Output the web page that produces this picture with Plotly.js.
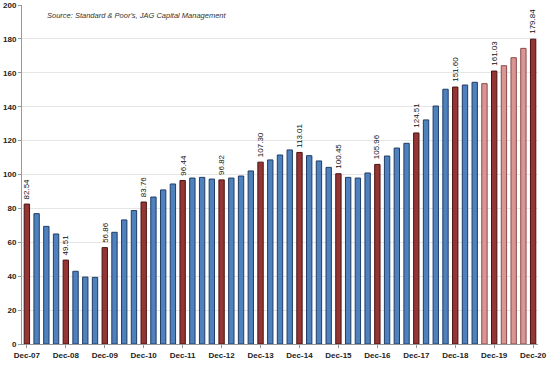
<!DOCTYPE html>
<html>
<head>
<meta charset="utf-8">
<script src="https://cdn.plot.ly/plotly-3.0.1.min.js"></script>
<style>html,body{margin:0;padding:0;background:#fff;}#chart{width:550px;height:376px;}</style>
</head>
<body>
<div id="chart"></div>
<script>
var quarters = ["Dec-07","Mar-08","Jun-08","Sep-08","Dec-08","Mar-09","Jun-09","Sep-09","Dec-09","Mar-10","Jun-10","Sep-10","Dec-10","Mar-11","Jun-11","Sep-11","Dec-11","Mar-12","Jun-12","Sep-12","Dec-12","Mar-13","Jun-13","Sep-13","Dec-13","Mar-14","Jun-14","Sep-14","Dec-14","Mar-15","Jun-15","Sep-15","Dec-15","Mar-16","Jun-16","Sep-16","Dec-16","Mar-17","Jun-17","Sep-17","Dec-17","Mar-18","Jun-18","Sep-18","Dec-18","Mar-19","Jun-19","Sep-19","Dec-19","Mar-20","Jun-20","Sep-20","Dec-20"];
var values = [82.54,76.9,69.4,64.9,49.51,42.9,39.5,39.3,56.86,65.9,73.2,78.7,83.76,86.7,90.9,94.4,96.44,97.9,98.3,97.3,96.82,97.9,99.1,102.1,107.30,108.6,111.5,114.5,113.01,111.1,108.0,104.2,100.45,98.3,97.9,100.9,105.96,110.9,115.6,118.4,124.51,132.2,140.4,150.3,151.60,152.8,154.4,153.6,161.03,164.2,168.9,174.4,179.84];
// kind: a = actual quarter, d = December year-end, e = estimate
var kinds = ["d","a","a","a","d","a","a","a","d","a","a","a","d","a","a","a","d","a","a","a","d","a","a","a","d","a","a","a","d","a","a","a","d","a","a","a","d","a","a","a","d","a","a","a","d","a","a","e","d","e","e","e","d"];
var tickLabels = ["Dec-07","Dec-08","Dec-09","Dec-10","Dec-11","Dec-12","Dec-13","Dec-14","Dec-15","Dec-16","Dec-17","Dec-18","Dec-19","Dec-20"];
var sourceNote = "Source: Standard & Poor's, JAG Capital Management";

var fillMap = {a:"#4f81bd", d:"#943634", e:"#d99694"};
var lineMap = {a:"#1f3d66", d:"#4a1312", e:"#8a4a48"};
var idx = quarters.map(function(_, i){ return i; });

var trace = {
  type: "bar",
  x: idx,
  y: values,
  marker: {
    color: kinds.map(function(k){ return fillMap[k]; }),
    line: {color: kinds.map(function(k){ return lineMap[k]; }), width: 1}
  },
  hoverinfo: "none"
};

var tickVals = [];
for (var i = 0; i < quarters.length; i++) { if (i % 4 === 0) tickVals.push(i); }

var annotations = [{
  text: sourceNote, xref: "paper", yref: "paper",
  x: 0.045, y: 0.97, xanchor: "left", yanchor: "middle", showarrow: false,
  font: {family: "Liberation Sans, Arial, sans-serif", size: 7.5, color: "#333", style: "italic"}
}];
values.forEach(function(v, i){
  if (kinds[i] !== "d") return;
  annotations.push({
    x: i, y: v, xref: "x", yref: "y", text: v.toFixed(2), showarrow: false,
    textangle: -90, xanchor: "center", yanchor: "bottom", yshift: 3,
    font: {family: "Liberation Sans, Arial, sans-serif", size: 8, color: "#111"}
  });
});

var layout = {
  width: 550, height: 376,
  margin: {l: 22, r: 12, t: 5, b: 32},
  paper_bgcolor: "#fff", plot_bgcolor: "#fff",
  showlegend: false,
  bargap: 0.45,
  font: {family: "Liberation Sans, Arial, sans-serif", color: "#222"},
  xaxis: {
    range: [-0.5, quarters.length - 0.5],
    tickmode: "array", tickvals: tickVals, ticktext: tickLabels,
    tickfont: {size: 8, color: "#222", weight: "bold"},
    showgrid: false, zeroline: false,
    showline: true, linecolor: "#999", linewidth: 1,
    ticks: "outside", ticklen: 3, tickcolor: "#999"
  },
  yaxis: {
    range: [0, 200], dtick: 20,
    tickfont: {size: 8, color: "#222", weight: "bold"},
    showgrid: true, gridcolor: "#e6e6e6", gridwidth: 1,
    zeroline: false,
    showline: true, linecolor: "#999", linewidth: 1,
    ticks: "outside", ticklen: 3, tickcolor: "#999"
  },
  annotations: annotations
};

Plotly.newPlot("chart", [trace], layout, {displayModeBar: false, staticPlot: true});
</script>
</body>
</html>
